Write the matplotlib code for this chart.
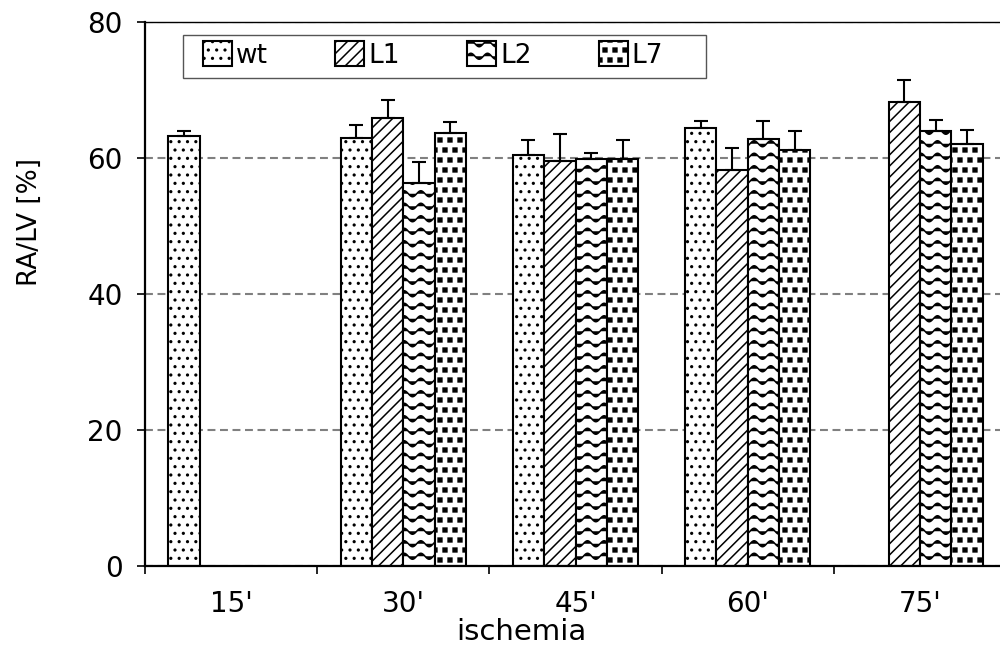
import warnings
import numpy as np
import matplotlib
matplotlib.use('Agg')
import matplotlib.pyplot as plt
from matplotlib import hatch as mhatch
from matplotlib.patches import Rectangle
from matplotlib.path import Path

warnings.filterwarnings('ignore')

# data
groups = ["15'", "30'", "45'", "60'", "75'"]
series = ['wt', 'L1', 'L2', 'L7']
wt = [63.3, 63.0, 60.5, 64.4, np.nan]
wt_err = [0.6, 1.8, 2.1, 1.0, np.nan]
l1 = [np.nan, 65.9, 59.6, 58.3, 68.3]
l1_err = [np.nan, 2.6, 3.9, 3.2, 3.1]
l2 = [np.nan, 56.3, 59.8, 62.8, 63.9]
l2_err = [np.nan, 3.1, 1.0, 2.6, 1.7]
l7 = [np.nan, 63.7, 59.8, 61.2, 62.0]
l7_err = [np.nan, 1.6, 2.8, 2.7, 2.1]
yticks = [0, 20, 40, 60, 80]


# extra hatch patterns: wavy lines ('~') and filled squares ('s')
class WaveHatch(mhatch.HatchPatternBase):
    def __init__(self, hatch, density):
        self.num_lines = hatch.count('~') * 4
        self.num_pts = 121
        self.num_vertices = self.num_lines * self.num_pts

    def set_vertices_and_codes(self, vertices, codes):
        n = self.num_pts
        xs = np.linspace(0, 1, n)
        for i in range(self.num_lines):
            y0 = (i + 0.5) / self.num_lines
            vertices[i * n:(i + 1) * n, 0] = xs
            vertices[i * n:(i + 1) * n, 1] = y0 + 0.03 * np.sin(2 * np.pi * 6 * xs)
            codes[i * n] = Path.MOVETO
            codes[i * n + 1:(i + 1) * n] = Path.LINETO


class SquareHatch(mhatch.Shapes):
    size = 0.19
    filled = True

    def __init__(self, hatch, density):
        self.num_rows = hatch.count('s') * 10
        self.shape_vertices = np.array([[-1, -1], [1, -1], [1, 1], [-1, 1], [-1, -1]], float)
        self.shape_codes = np.array([Path.MOVETO, Path.LINETO, Path.LINETO,
                                     Path.LINETO, Path.CLOSEPOLY], dtype=Path.code_type)
        super().__init__(hatch, density)


mhatch._hatch_types.append(WaveHatch)
mhatch._hatch_types.append(SquareHatch)

plt.rcParams['font.family'] = ['DejaVu Sans']
plt.rcParams['hatch.linewidth'] = 1.1

fig = plt.figure(figsize=(10, 6.55), dpi=100)
ax = fig.add_axes([0.145, 89 / 655, 0.861, 544 / 655])

x = np.arange(len(groups))
w = 0.182
values = [wt, l1, l2, l7]
errors = [wt_err, l1_err, l2_err, l7_err]
hatches = ['..', '///', '~~', 's']

for i in range(len(series)):
    pos = x + (i - 1.5) * w
    ax.bar(pos, values[i], w, color='white', edgecolor='black', linewidth=1.5,
           hatch=hatches[i], label=series[i], zorder=2)
    low = np.zeros(len(groups))
    ax.errorbar(pos, values[i], yerr=[low, errors[i]], fmt='none', ecolor='black',
                elinewidth=1.5, capsize=5, capthick=1.5, zorder=3)

ax.set_xlim(-0.5, len(groups) - 0.5)
ax.set_ylim(0, 80)
ax.set_yticks(yticks)
ax.tick_params(axis='y', labelsize=20, length=6, width=1.2, pad=10)

ax.set_xticks(np.arange(len(groups) + 1) - 0.5)
ax.set_xticklabels([])
ax.set_xticks(x, minor=True)
ax.set_xticklabels(groups, minor=True)
ax.tick_params(axis='x', which='major', length=6, width=1.2)
ax.tick_params(axis='x', which='minor', length=0, labelsize=20, pad=17)

ax.yaxis.grid(True, linestyle=(0, (3.8, 2.2)), color='#808080', linewidth=1.5)
ax.set_axisbelow(True)

for side in ['left', 'bottom']:
    ax.spines[side].set_linewidth(1.6)
ax.spines['top'].set_linewidth(1.0)
ax.spines['right'].set_visible(False)

ax.set_xlabel('ischemia', fontsize=21)
ax.xaxis.set_label_coords((521 - 145) / 861, -0.095)
ax.set_ylabel('RA/LV [%]', fontsize=19)
ax.yaxis.set_label_coords(-0.118, 0.632)

# legend box a bit wider than the entries, like the original
box = Rectangle((0.183, (655 - 78) / 655), 0.523, 43 / 655, transform=fig.transFigure,
                facecolor='white', edgecolor='#555555', linewidth=1.0, zorder=4)
ax.add_patch(box)
leg = ax.legend(loc='upper left', bbox_to_anchor=(0.0674, 0.965), ncol=4,
                fontsize=19, frameon=False, borderaxespad=0, borderpad=0,
                handlelength=1.1, handleheight=1.1, handletextpad=0.15,
                columnspacing=2.55)
leg.set_zorder(5)

plt.savefig('out.png', dpi=100)
